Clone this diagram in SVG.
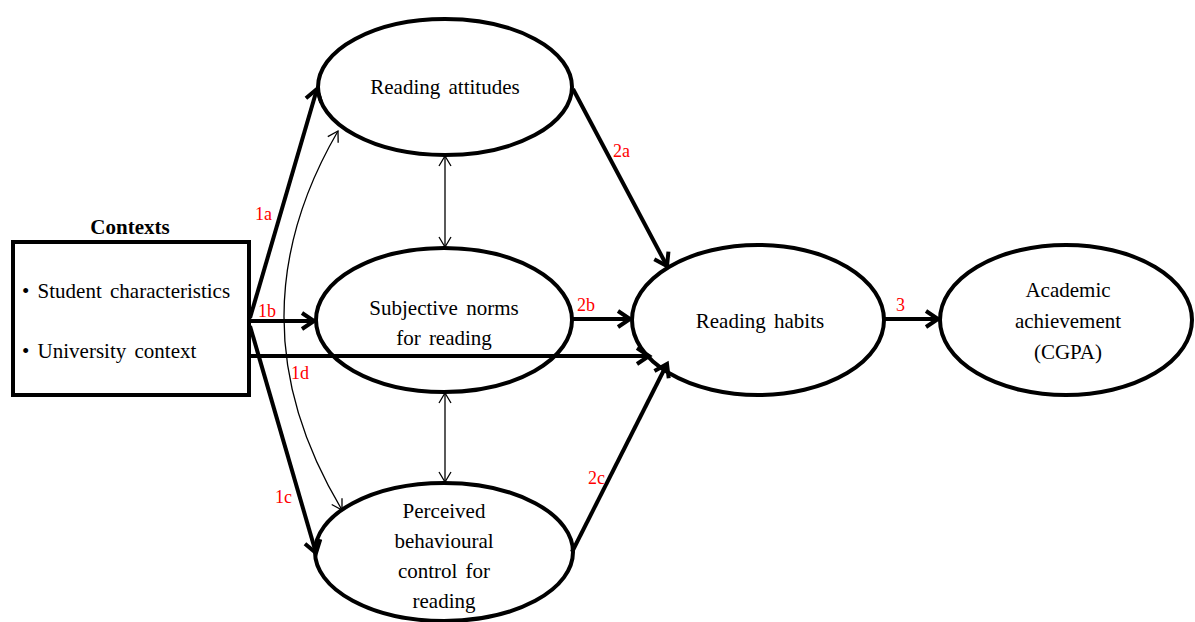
<svg xmlns="http://www.w3.org/2000/svg" width="1195" height="622" viewBox="0 0 1195 622">
<style>
.node{fill:#fff;stroke:#000;stroke-width:4}
.t{font-family:"Liberation Serif","Times New Roman",serif;font-size:21px;fill:#000;text-anchor:middle;word-spacing:3px}
.lb{font-family:"Liberation Serif","Times New Roman",serif;font-size:18px;fill:#ff0000}
.thick{fill:none;stroke:#000;stroke-width:4}
.thin{fill:none;stroke:#000;stroke-width:1.3}
</style>
<defs>
<marker id="ah" markerUnits="userSpaceOnUse" markerWidth="20" markerHeight="20" refX="15" refY="10" orient="auto">
<path d="M3,2 L15,10 L3,18" fill="none" stroke="#000" stroke-width="4"/>
</marker>
<marker id="at" markerUnits="userSpaceOnUse" markerWidth="14" markerHeight="14" refX="11" refY="7" orient="auto-start-reverse">
<path d="M1,1 L11,7 L1,13" fill="none" stroke="#000" stroke-width="1.3"/>
</marker>
</defs>
<rect width="1195" height="622" fill="#fff"/>
<g id="contexts">
<text x="130" y="234" class="t" style="font-weight:bold">Contexts</text>
<rect x="13" y="242" width="236" height="153" fill="#fff" stroke="#000" stroke-width="4"/>
<text x="22" y="298" class="t" style="text-anchor:start">• Student characteristics</text>
<text x="22" y="358" class="t" style="text-anchor:start">• University context</text>
</g>
<g id="attitudes">
<ellipse cx="445" cy="87" rx="127" ry="68" class="node"/>
<text x="445" y="94" class="t">Reading attitudes</text>
</g>
<g id="norms">
<ellipse cx="444" cy="320" rx="128" ry="72" class="node"/>
<text x="444" y="315" class="t">Subjective norms</text>
<text x="444" y="345" class="t">for reading</text>
</g>
<g id="control">
<ellipse cx="444" cy="552" rx="129" ry="69" class="node"/>
<text x="444" y="518" class="t">Perceived</text>
<text x="444" y="548" class="t">behavioural</text>
<text x="444" y="578" class="t">control for</text>
<text x="444" y="608" class="t">reading</text>
</g>
<g id="habits">
<ellipse cx="758" cy="320" rx="126" ry="75" class="node"/>
<text x="760" y="328" class="t">Reading habits</text>
</g>
<g id="achievement">
<ellipse cx="1066" cy="320" rx="126" ry="75" class="node"/>
<text x="1068" y="297" class="t">Academic</text>
<text x="1068" y="328" class="t">achievement</text>
<text x="1068" y="359" class="t">(CGPA)</text>
</g>
<g id="connectors">
<line x1="250" y1="318" x2="317" y2="89" class="thick" marker-end="url(#ah)"/>
<line x1="250" y1="321" x2="314" y2="321" class="thick" marker-end="url(#ah)"/>
<line x1="250" y1="326" x2="316" y2="553" class="thick" marker-end="url(#ah)"/>
<line x1="250" y1="356" x2="649" y2="356" class="thick" marker-end="url(#ah)"/>
<line x1="573" y1="89" x2="667" y2="266" class="thick" marker-end="url(#ah)"/>
<line x1="573" y1="319" x2="630" y2="319" class="thick" marker-end="url(#ah)"/>
<line x1="572" y1="552" x2="667" y2="364" class="thick" marker-end="url(#ah)"/>
<line x1="885" y1="319" x2="938" y2="319" class="thick" marker-end="url(#ah)"/>
<line x1="445" y1="156" x2="445" y2="247" class="thin" marker-start="url(#at)" marker-end="url(#at)"/>
<line x1="445" y1="393" x2="445" y2="482" class="thin" marker-start="url(#at)" marker-end="url(#at)"/>
<path d="M338,131 Q228,320 342,510" class="thin" marker-start="url(#at)" marker-end="url(#at)"/>
<text x="255" y="220" class="lb">1a</text>
<text x="258" y="317" class="lb">1b</text>
<text x="291" y="379" class="lb">1d</text>
<text x="275" y="503" class="lb">1c</text>
<text x="613" y="157" class="lb">2a</text>
<text x="577" y="311" class="lb">2b</text>
<text x="588" y="484" class="lb">2c</text>
<text x="896" y="311" class="lb">3</text>
</g>
</svg>
